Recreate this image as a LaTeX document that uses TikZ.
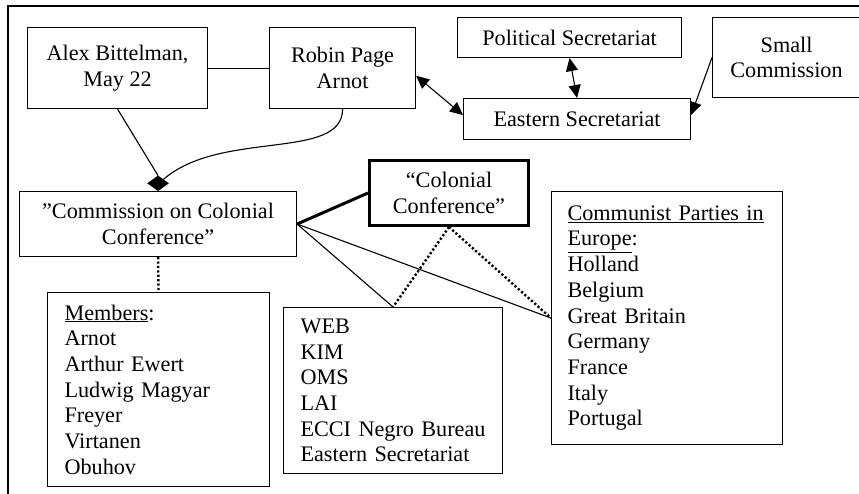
\documentclass[tikz,border=0pt]{standalone}
\usepackage{fontspec}
\setmainfont{Liberation Serif}
\usetikzlibrary{arrows.meta,shapes.geometric}
\begin{document}
\begin{tikzpicture}[x=1pt,y=-1pt,
  every node/.style={font=\fontsize{22.2pt}{25.7pt}\selectfont, inner sep=0pt},
  box/.style={draw, line width=1.1pt, align=center, anchor=north west},
  listbox/.style={draw, line width=1.1pt, align=left, anchor=north west, inner xsep=17pt},
  ln/.style={line width=1.1pt},
  arr/.style={line width=1.1pt, -{Triangle[length=13pt,width=12pt]}},
  darr/.style={line width=1.1pt, {Triangle[length=13pt,width=12pt]}-{Triangle[length=13pt,width=12pt]}},
  dots/.style={line width=2.4pt, dash pattern=on 2.2pt off 2.2pt}]
\useasboundingbox (0,0) rectangle (859,493);
\draw[ln] (8,500) -- (8,6) -- (870,6);

\node[box, minimum width=180pt, minimum height=81pt] (A) at (27,27) {Alex Bittelman,\\May 22};
\node[box, minimum width=146pt, minimum height=81pt] (R) at (269,27) {Robin Page\\Arnot};
\node[box, minimum width=224pt, minimum height=40pt] (PS) at (457,17) {Political Secretariat};
\node[box, minimum width=227pt, minimum height=41pt] (ES) at (463,98) {Eastern Secretariat};
\node[box, minimum width=148pt, minimum height=80pt] (SC) at (712,17) {Small\\Commission};
\node[box, minimum width=277pt, minimum height=65pt] (CC) at (19,191) {”Commission on Colonial\\Conference”};
\node[box, line width=3pt, minimum width=159pt, minimum height=65pt] (CoC) at (368,159) {“Colonial\\Conference”};

\node[listbox, text width=188pt, minimum height=194pt] (M) at (47,292)
  {\underline{Members}:\\Arnot\\Arthur Ewert\\Ludwig Magyar\\Freyer\\Virtanen\\Obuhov};
\node[listbox, text width=185pt, minimum height=166pt] (W) at (283,307)
  {WEB\\KIM\\OMS\\LAI\\\mbox{ECCI Negro Bureau}\\\mbox{Eastern Secretariat}};
\node[listbox, inner xsep=16pt, text width=199pt, minimum height=253pt] (CP) at (551,191)
  {\mbox{\underline{Communist Parties in}}\\\underline{Europe}:\\Holland\\Belgium\\Great Britain\\Germany\\France\\Italy\\Portugal};

\node[diamond, draw, fill, minimum width=21pt, minimum height=15pt, inner sep=0pt, anchor=south] (dm) at (CC.north) {};

\draw[ln] (A) -- (R);
\draw[darr] (R.-6) -- (ES.178);
\draw[darr] (PS.south) -- (ES.north);
\draw[arr] (SC.west) -- (ES.2);
\draw[ln] (A.south) -- (dm.north);
\draw[ln] (R.south) .. controls +(0,52) and +(57,-50) .. (dm.north east);
\draw[line width=3pt] (CC.east) -- (CoC.west);
\draw[ln] (CC.east) -- (W.north);
\draw[ln] (CC.east) -- (CP.west);
\draw[dots] (CoC.south) -- (W.north);
\draw[dots] (CoC.south) -- (CP.west);
\draw[dots] (CC.south) -- (M.north);
\end{tikzpicture}
\end{document}
